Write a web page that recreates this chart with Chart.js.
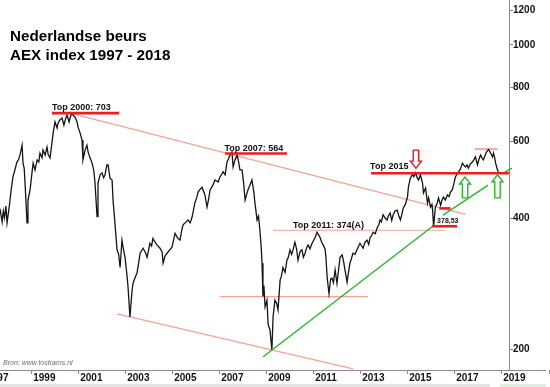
<!DOCTYPE html>
<html>
<head>
<meta charset="utf-8">
<script src="https://cdn.jsdelivr.net/npm/chart.js@4/dist/chart.umd.min.js"></script>
<style>
html,body{margin:0;padding:0;background:#fff;}
#c{display:block;}
</style>
</head>
<body>
<canvas id="c" width="550" height="387"></canvas>
<script>
// ---- Data ----
const years = [
1997.65,1997.70,1997.74,1997.79,1997.84,1997.90,1997.95,1998.01,1998.06,1998.12,1998.20,1998.28,1998.37,1998.44,1998.50,1998.59,1998.63,1998.68,1998.72,1998.80,1998.84,1998.93,
1999.01,1999.06,1999.14,1999.23,1999.30,1999.35,1999.44,1999.48,1999.57,1999.65,1999.70,1999.78,1999.86,1999.91,1999.99,
2000.08,2000.12,2000.20,2000.29,2000.37,2000.44,2000.50,2000.59,2000.63,2000.71,2000.77,2000.84,2000.93,2000.97,
2001.06,2001.14,2001.18,2001.27,2001.35,2001.40,2001.48,2001.57,2001.64,2001.69,2001.78,2001.82,2001.91,2001.99,
2002.06,2002.12,2002.20,2002.25,2002.33,2002.42,2002.46,2002.54,2002.63,2002.70,2002.76,2002.84,2002.90,2002.97,
2003.06,2003.10,2003.18,2003.27,2003.31,2003.40,2003.48,2003.55,2003.61,2003.74,2003.84,2003.91,
2004.03,2004.10,2004.16,2004.25,2004.33,2004.46,2004.55,2004.59,2004.68,2004.76,2004.87,2004.97,
2005.10,2005.18,2005.23,2005.31,2005.38,2005.44,2005.57,2005.65,2005.74,2005.82,2005.95,
2006.02,2006.08,2006.17,2006.25,2006.37,2006.46,2006.52,2006.59,2006.71,2006.80,2006.93,
2007.01,2007.09,2007.14,2007.23,2007.31,2007.38,2007.44,2007.52,2007.57,2007.65,2007.74,2007.80,2007.86,2007.95,
2008.02,2008.08,2008.14,2008.20,2008.28,2008.37,2008.45,2008.50,2008.59,2008.65,2008.71,2008.77,2008.80,2008.84,2008.88,2008.93,
2009.01,2009.06,2009.14,2009.22,2009.27,2009.35,2009.42,2009.48,2009.57,2009.63,2009.69,2009.78,2009.86,2009.92,2009.99,
2010.06,2010.12,2010.20,2010.27,2010.33,2010.42,2010.50,2010.56,2010.63,2010.70,2010.76,2010.84,2010.93,
2011.06,2011.14,2011.22,2011.27,2011.34,2011.40,2011.48,2011.52,2011.57,2011.65,2011.72,2011.78,2011.84,2011.91,2011.99,
2012.06,2012.12,2012.21,2012.27,2012.33,2012.42,2012.48,2012.54,2012.60,2012.67,2012.76,2012.84,2012.90,2012.97,
2013.04,2013.10,2013.18,2013.27,2013.34,2013.40,2013.47,2013.53,2013.62,2013.70,2013.77,2013.82,2013.88,2013.95,
2014.04,2014.12,2014.18,2014.25,2014.32,2014.38,2014.46,2014.55,2014.62,2014.69,2014.75,2014.81,2014.90,2014.99,
2015.03,2015.11,2015.20,2015.26,2015.33,2015.40,2015.46,2015.54,2015.63,2015.67,2015.76,2015.84,2015.89,2015.97,
2016.03,2016.06,2016.10,2016.18,2016.25,2016.31,2016.40,2016.46,2016.52,2016.60,2016.69,2016.76,2016.82,2016.90,2016.95,
2017.03,2017.10,2017.16,2017.24,2017.33,2017.40,2017.46,2017.52,2017.58,2017.66,2017.75,2017.82,2017.88,2017.97,
2018.04,2018.10,2018.16,2018.22,2018.28,2018.35,2018.44,2018.52,2018.61,2018.65,2018.70,2018.74,2018.82,2018.86
];
const aex = [
420,404,392,415,401,426,390,412,432,462,497,515,538,545,558,588,535,520,476,390,440,464,
508,535,516,544,538,564,550,573,558,582,560,550,595,627,665,
644,661,672,679,654,676,690,665,679,697,688,683,665,647,
627,604,544,573,588,567,550,535,515,484,403,481,503,508,
495,503,530,530,494,489,440,390,338,330,308,356,340,325,
293,277,237,273,283,292,299,315,332,341,333,325,
350,345,359,352,347,341,334,315,328,332,338,343,
369,362,359,356,374,386,392,396,390,401,435,
445,459,466,471,452,424,440,464,476,489,484,
497,505,511,503,538,548,558,567,524,544,558,540,516,516,
480,440,452,464,475,489,460,433,396,404,375,340,315,264,280,250,
259,228,221,199,237,259,255,246,288,295,308,300,320,325,338,
330,338,352,340,320,335,338,325,332,342,347,340,350,
361,371,365,361,352,347,340,325,293,268,290,291,284,304,283,
305,325,329,318,304,285,300,315,322,332,330,338,344,350,
345,341,352,356,348,361,365,371,368,380,386,396,392,407,
400,396,405,411,395,407,415,417,405,396,408,422,430,447,
471,494,503,498,508,495,489,503,481,457,469,433,445,424,
430,417,382,424,432,445,428,440,447,440,452,448,459,465,476,
497,505,511,518,535,528,524,530,521,532,538,545,553,530,
548,558,550,544,555,567,575,565,553,564,550,535,516,511
];
const xTickYears = [1997,1999,2001,2003,2005,2007,2009,2011,2013,2015,2017,2019];
const yTickValues = [200,400,600,800,1000,1200];

// Annotation lines (year, value pairs)
const topLines = [            // thick red
  [[1999.86,697],[2002.72,697]],   // Top 2000
  [[2007.23,563],[2009.86,563]],   // Top 2007
  [[2013.44,507],[2019.31,507]],   // Top 2015
  [[2016.34,421],[2016.82,421]],
  [[2016.04,383],[2017.10,383]]    // 378,53
];
const pinkLines = [
  [[2000.63,697],[2017.46,408]],   // upper channel
  [[2002.63,241],[2012.68,180]],   // lower channel
  [[2007.02,264],[2013.31,264]],
  [[2009.27,375],[2016.59,375]],   // Top 2011
];
const pinkTop2018 = [[2017.84,576],[2018.82,576]];
const greenLines = [
  [[2008.85,192],[2016.08,383.5]],
  [[2016.50,406],[2018.42,476]],
  [[2019.13,510],[2019.43,521]]
];
const labels = [
  {text:'Top 2000: 703', x:1999.86, y:707, size:9},
  {text:'Top 2007: 564', x:2007.20, y:570, size:9},
  {text:'Top 2011: 374(A)', x:2010.12, y:379, size:9},
  {text:'Top 2015', x:2013.40, y:519, size:9},
  {text:'378,53', x:2016.25, y:390, size:7}
];
const arrows = [
  {x:2015.35, tip:521, base:573, color:'#e8141e'},
  {x:2017.44, tip:497, base:445, color:'#2fb52f'},
  {x:2018.82, tip:503, base:445, color:'#2fb52f'}
];

// ---- Chart ----
const FONT = 'Arial, "Liberation Sans", sans-serif';
Chart.defaults.font.family = FONT;
const axisColor = '#9a829c';

const toXY = seg => seg.map(p => ({x:p[0], y:p[1]}));
const datasets = [];
datasets.push({
  data: years.map((y,i)=>({x:y, y:aex[i]})),
  borderColor:'#141414', borderWidth:1.3, pointRadius:0, order:2
});
pinkLines.forEach(s => datasets.push({data:toXY(s), borderColor:'#f7a294', borderWidth:1.2, pointRadius:0, order:3}));
datasets.push({data:toXY(pinkTop2018), borderColor:'#f6a6a6', borderWidth:2, pointRadius:0, order:3});
greenLines.forEach(s => datasets.push({data:toXY(s), borderColor:'#2fb52f', borderWidth:1.5, pointRadius:0, order:1, clip:false}));
topLines.forEach(s => datasets.push({data:toXY(s), borderColor:'#ee1c1c', borderWidth:2.6, pointRadius:0, order:0}));

const annot = {
  id:'annot',
  afterDatasetsDraw(chart){
    const ctx = chart.ctx, xs = chart.scales.x, ys = chart.scales.y;
    ctx.save();
    labels.forEach(l => {
      ctx.font = 'bold ' + l.size + 'px ' + FONT;
      ctx.fillStyle = '#111';
      ctx.textBaseline = 'alphabetic';
      ctx.textAlign = 'left';
      ctx.fillText(l.text, xs.getPixelForValue(l.x), ys.getPixelForValue(l.y));
    });
    arrows.forEach(a => {
      const cx = xs.getPixelForValue(a.x), t = ys.getPixelForValue(a.tip), b = ys.getPixelForValue(a.base);
      const dir = b > t ? 1 : -1; // 1: pointing up
      const hl = 7, hw = 5.5, sw = 2.7;
      const hb = t + dir*hl;
      ctx.beginPath();
      ctx.moveTo(cx, t);
      ctx.lineTo(cx+hw, hb);
      ctx.lineTo(cx+sw, hb);
      ctx.lineTo(cx+sw, b);
      ctx.lineTo(cx-sw, b);
      ctx.lineTo(cx-sw, hb);
      ctx.lineTo(cx-hw, hb);
      ctx.closePath();
      ctx.fillStyle = '#fff';
      ctx.fill();
      ctx.strokeStyle = a.color;
      ctx.lineWidth = 1.4;
      ctx.stroke();
    });
    ctx.restore();
  },
  afterDraw(chart){
    const ctx = chart.ctx, xs = chart.scales.x, ca = chart.chartArea;
    ctx.save();
    // x axis line continues past the value axis
    ctx.strokeStyle = axisColor; ctx.lineWidth = 1;
    ctx.beginPath();
    ctx.moveTo(ca.right, ca.bottom + 0.5); ctx.lineTo(546, ca.bottom + 0.5);
    const px = Math.round(xs.getPixelForValue(2021)) + 0.5;
    ctx.moveTo(px, ca.bottom); ctx.lineTo(px, ca.bottom + 4);
    ctx.stroke();
    // faint strip at bottom
    ctx.fillStyle = '#e4e4e4';
    ctx.fillRect(0, 384, 490, 3);
    ctx.fillStyle = '#e2ede2';
    ctx.fillRect(500, 384, 46, 3);
    // title
    ctx.fillStyle = '#000';
    ctx.font = 'bold 15.2px ' + FONT;
    ctx.textAlign = 'left'; ctx.textBaseline = 'alphabetic';
    ctx.fillText('Nederlandse beurs', 10, 41);
    ctx.fillText('AEX index 1997 - 2018', 10, 59.5);
    // source
    ctx.fillStyle = '#6e6e6e';
    ctx.font = 'italic 7px ' + FONT;
    ctx.fillText('Bron: www.tostrams.nl', 3, 365);
    ctx.restore();
  }
};

new Chart(document.getElementById('c'), {
  type:'line',
  data:{datasets},
  plugins:[annot],
  options:{
    responsive:false, animation:false, devicePixelRatio:1,
    parsing:true,
    layout:{padding:0},
    plugins:{legend:{display:false}, tooltip:{enabled:false}, title:{display:false}},
    elements:{line:{tension:0}},
    scales:{
      x:{
        type:'linear', position:'bottom', min:1997.65, max:2019.31,
        grid:{display:true, drawOnChartArea:false, drawTicks:true, tickLength:4, color:axisColor},
        border:{display:true, color:axisColor, width:1},
        ticks:{align:'start', labelOffset:1.5, autoSkip:false, maxRotation:0, minRotation:0, padding:-2,
               color:'#111', font:{size:10, weight:'bold'}, callback:v=>String(v)},
        afterBuildTicks(s){ s.ticks = xTickYears.map(v=>({value:v})); },
        afterFit(s){ s.height = 17; s.paddingLeft = 0; s.paddingRight = 0; }
      },
      y:{
        type:'logarithmic', position:'right', min:179, max:1268,
        grid:{display:true, drawOnChartArea:false, drawTicks:true, tickLength:4, color:axisColor},
        border:{display:true, color:axisColor, width:1},
        ticks:{padding:0, color:'#111', font:{size:10, weight:'bold'}, autoSkip:false, callback:v=>String(v)},
        afterBuildTicks(s){ s.ticks = yTickValues.map(v=>({value:v})); },
        afterFit(s){ s.width = 41; s.paddingTop = 0; s.paddingBottom = 0; }
      }
    }
  }
});
</script>
</body>
</html>
